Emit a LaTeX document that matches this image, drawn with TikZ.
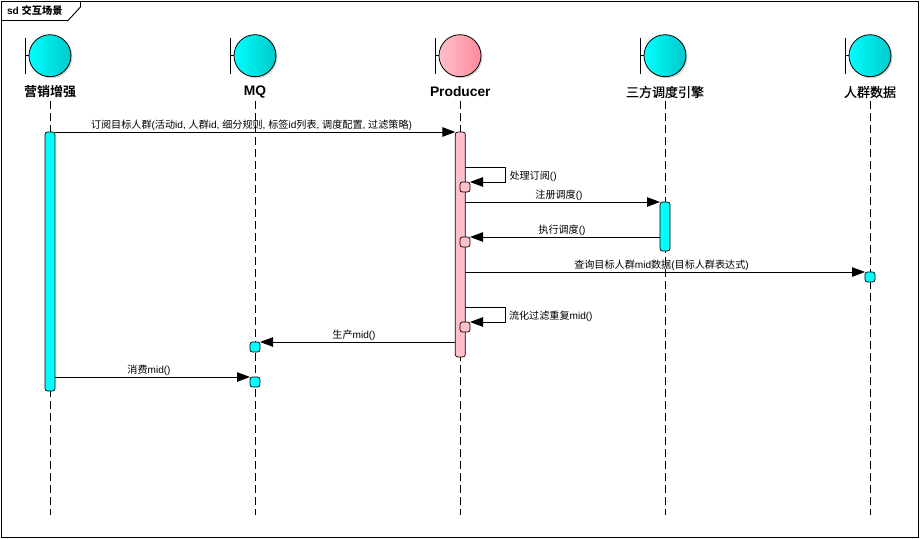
\documentclass[tikz,border=0pt]{standalone}
\usepackage{fontspec}
\setmainfont{Liberation Sans}
\newfontfamily\cjk{Noto Sans CJK SC}
\newfontfamily\cjkb{Noto Sans CJK SC Bold}
\newfontfamily\cjkm[FakeBold=0.5]{Noto Sans CJK SC}
\newcommand{\zh}[1]{{\cjk #1}}
\newcommand{\zhb}[1]{{\cjkb #1}}
\newcommand{\zhm}[1]{{\cjkm #1}}
\usetikzlibrary{arrows.meta,calc}
\definecolor{cyanL}{HTML}{00FFFF}
\definecolor{cyanR}{HTML}{00C8C8}
\definecolor{pinkL}{HTML}{FFC0CB}
\definecolor{pinkR}{HTML}{FF8A9A}
\tikzset{
  every node/.style={inner sep=0pt,outer sep=0pt},
  headbase/.style={circle,draw=black,line width=0.8pt,minimum size=42pt},
  headcyan/.style={headbase,left color=cyanL,right color=cyanR},
  headpink/.style={headbase,left color=pinkL,right color=pinkR},
  headshadow/.style={circle,fill=black,opacity=0.16,minimum size=42pt},
  stem/.style={line width=0.9pt},
  lifeline/.style={line width=0.8pt,dash pattern=on 8pt off 4pt},
  namelabel/.style={font=\fontsize{13.8}{15}\selectfont\bfseries,text=black},
  cjkname/.style={font=\fontsize{13}{15}\selectfont,text=black},
  msglabel/.style={font=\fontsize{10.1}{11}\selectfont,text=black,anchor=base},
  barcyan/.style={draw=black,line width=0.7pt,fill=cyanL,rounded corners=2.5pt,minimum width=10pt},
  barpink/.style={draw=black,line width=0.7pt,fill=pinkL,rounded corners=2.5pt,minimum width=10pt},
  msg/.style={line width=0.9pt,-{Triangle[length=13pt,width=9.5pt]}},
}
\begin{document}
\begin{tikzpicture}[x=1pt,y=-1pt]
\useasboundingbox (0,0) rectangle (920,538);
\fill[white] (0,0) rectangle (920,538);
% frame
\draw[line width=0.9pt] (1,1) rectangle (918,537);
\draw[line width=0.9pt] (1,20.5) -- (68,20.5) -- (80.5,7) -- (80.5,1);
\node[anchor=base west,font=\fontsize{10.2}{11}\selectfont\bfseries] (title) at (7,14.5) {sd \zhb{交互场景}};
% lifeline heads
\foreach \n/\x/\st in {a/50/headcyan,b/255/headcyan,c/460/headpink,d/665/headcyan,e/870/headcyan}{
  \node[headshadow] (s\n) at (\x+1.5,57.2) {};
  \node[\st] (h\n) at (\x,55.7) {};
  \coordinate (t\n) at (\x-24.5,38);
  \coordinate (u\n) at (\x-24.5,74);
  \coordinate (v\n) at (\x-24.5,55.7);
  \draw[stem] (t\n) -- (u\n);
  \draw[stem] (v\n) -- (h\n.west);
  \coordinate (top\n) at (\x,101);
  \coordinate (end\n) at (\x,515);
  \draw[lifeline] (top\n) -- (end\n);
}
% names
\node[cjkname] (na) at (50,92) {\zhb{营销增强}};
\node[namelabel] (nb) at (255,92) {MQ};
\node[namelabel] (nc) at (460.3,92) {Producer};
\node[cjkname] (nd) at (665,92) {\zhm{三方调度引擎}};
\node[cjkname] (ne) at (870,92) {\zhm{人群数据}};
% activation bars
\node[barcyan,minimum height=259pt] (ba) at (50,261.5) {};
\node[barpink,minimum height=225pt] (bc) at (460.3,244.5) {};
\node[barcyan,minimum height=49pt] (bd) at (665,226.5) {};
\node[barpink,minimum height=10pt] (c1) at (465,187) {};
\node[barpink,minimum height=10pt] (c2) at (465,242) {};
\node[barpink,minimum height=10pt] (c3) at (465,327) {};
\node[barcyan,minimum height=10pt] (e1) at (870,277) {};
\node[barcyan,minimum height=10pt] (b1) at (255,347) {};
\node[barcyan,minimum height=10pt] (b2) at (255,382) {};
% anchors of messages
\coordinate (s1a) at (505.5,167);
\coordinate (s1b) at (505.5,182);
\coordinate (s3a) at (505.5,307);
\coordinate (s3b) at (505.5,322);
% messages
\draw[msg] (ba.north east) -- (bc.north west);
\draw[msg] (bc.east |- s1a) -- (s1a) -- (s1b) -- (c1.north east);
\draw[msg] (bc.east |- 0,202) -- (bd.north west);
\draw[msg] (bd.west |- c2.north) -- (c2.north east);
\draw[msg] (bc.east |- e1.north) -- (e1.north west);
\draw[msg] (bc.east |- s3a) -- (s3a) -- (s3b) -- (c3.north east);
\draw[msg] (bc.west |- b1.north) -- (b1.north east);
\draw[msg] (ba.east |- b2.north) -- (b2.north west);
% message labels
\node[msglabel] (m1) at (251.5,128) {\zh{订阅目标人群}(\zh{活动}id, \zh{人群}id, \zh{细分规则}, \zh{标签}id\zh{列表}, \zh{调度配置}, \zh{过滤策略})};
\node[msglabel,anchor=base west] (m2) at (509.5,179) {\zh{处理订阅}()};
\node[msglabel] (m3) at (559,198) {\zh{注册调度}()};
\node[msglabel] (m4) at (562,233) {\zh{执行调度}()};
\node[msglabel] (m5) at (661.5,268) {\zh{查询目标人群}mid\zh{数据}(\zh{目标人群表达式})};
\node[msglabel,anchor=base west] (m6) at (509,319) {\zh{流化过滤重复}mid()};
\node[msglabel] (m7) at (354,338) {\zh{生产}mid()};
\node[msglabel] (m8) at (149,373) {\zh{消费}mid()};
\end{tikzpicture}
\end{document}
